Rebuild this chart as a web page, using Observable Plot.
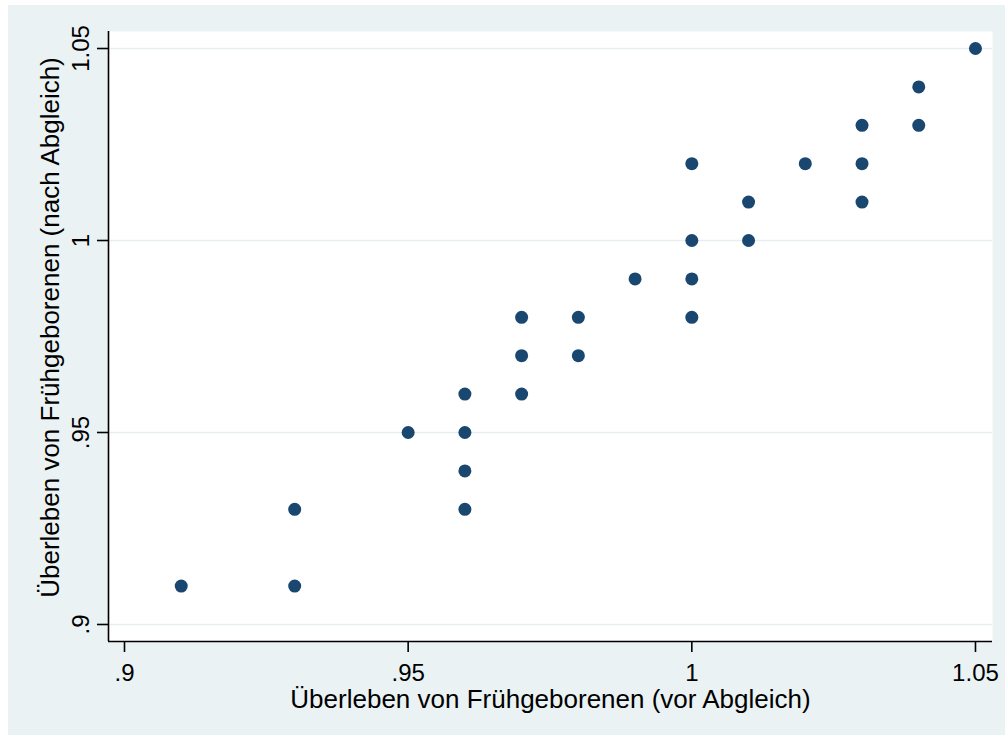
<!DOCTYPE html>
<html>
<head>
<meta charset="utf-8">
<script src="https://cdn.jsdelivr.net/npm/d3@7"></script>
<script src="https://cdn.jsdelivr.net/npm/@observablehq/plot@0.6"></script>
<style>
  html, body { margin: 0; padding: 0; background: #ffffff; }
  #chart { margin-left: 8px; margin-top: 5px; }
  #chart svg { display: block; }
</style>
</head>
<body>
<div id="chart"></div>
<script>
// Survival of preterm infants before (x) and after (y) matching
const xVals = [0.91, 0.93, 0.93, 0.95, 0.96, 0.96, 0.96, 0.96, 0.97, 0.97, 0.97, 0.98, 0.98, 0.99,
               1.00, 1.00, 1.00, 1.00, 1.01, 1.01, 1.02, 1.03, 1.03, 1.03, 1.04, 1.04, 1.05];
const yVals = [0.91, 0.93, 0.91, 0.95, 0.96, 0.95, 0.94, 0.93, 0.98, 0.97, 0.96, 0.98, 0.97, 0.99,
               1.02, 1.00, 0.99, 0.98, 1.01, 1.00, 1.02, 1.03, 1.02, 1.01, 1.04, 1.03, 1.05];
const xTicks = [0.9, 0.95, 1, 1.05];
const yTicks = [0.9, 0.95, 1, 1.05];
const xTitle = "Überleben von Frühgeborenen (vor Abgleich)";
const yTitle = "Überleben von Frühgeborenen (nach Abgleich)";

const points = xVals.map((x, i) => ({x, y: yVals[i]}));
const fmt = d => String(+d.toFixed(2)).replace(/^0\./, ".");

const xDomain = [0.89718, 1.053];
const yDomain = [0.89557, 1.05443];

const chart = Plot.plot({
  width: 997,
  height: 730,
  marginLeft: 100,
  marginTop: 26,
  marginRight: 13,
  marginBottom: 94,
  style: {background: "#EAF2F3", fontFamily: "'Liberation Sans', Arial, sans-serif", fontSize: "24px", color: "#000"},
  x: {domain: xDomain},
  y: {domain: yDomain},
  marks: [
    Plot.frame({fill: "white", stroke: null}),
    Plot.gridY(yTicks, {stroke: "#E6EEF1", strokeOpacity: 1, strokeWidth: 1.6}),
    Plot.ruleX([xDomain[0]], {stroke: "#000", strokeWidth: 1.6}),
    Plot.ruleY([yDomain[0]], {stroke: "#000", strokeWidth: 1.6}),
    Plot.axisX({ticks: xTicks, tickSize: 11, tickPadding: 11, tickFormat: fmt, stroke: "#000", strokeWidth: 1.6, label: null}),
    Plot.axisY({ticks: yTicks, tickSize: 11, tickFormat: () => "", stroke: "#000", strokeWidth: 1.6, label: null}),
    Plot.text(yTicks, {y: d => d, text: fmt, frameAnchor: "left", dx: -20, rotate: -90, textAnchor: "middle", lineAnchor: "bottom", fontSize: 24}),
    Plot.text([xTitle], {text: d => d, frameAnchor: "bottom", dy: 66, lineAnchor: "bottom", textAnchor: "middle", fontSize: 26}),
    Plot.text([yTitle], {text: d => d, frameAnchor: "left", dx: -58, dy: -9, rotate: -90, lineAnchor: "middle", textAnchor: "middle", fontSize: 26}),
    Plot.dot(points, {x: "x", y: "y", r: 6.5, fill: "#1A476F", stroke: null})
  ]
});
document.getElementById("chart").appendChild(chart);
</script>
</body>
</html>
